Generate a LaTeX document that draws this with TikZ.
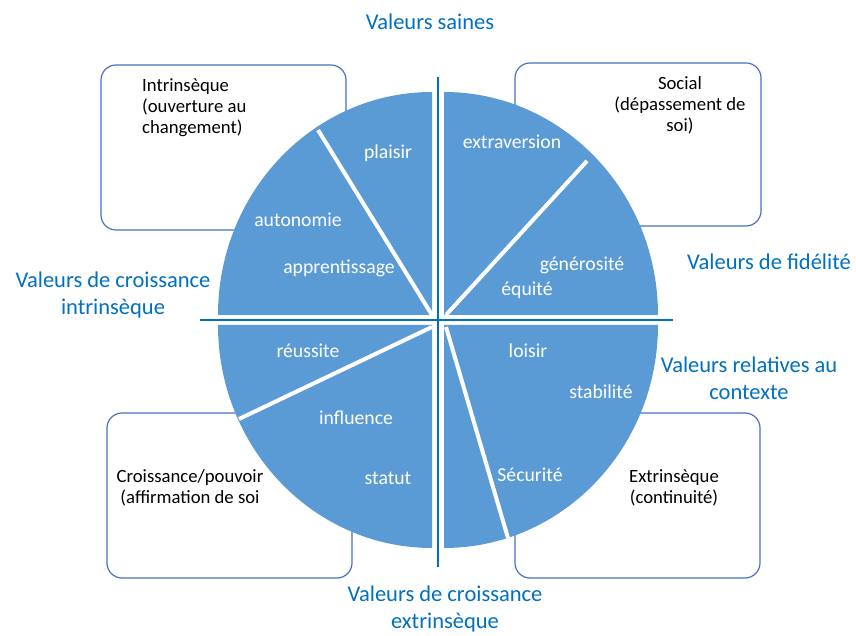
\documentclass[tikz,border=0pt]{standalone}
\usepackage{fontspec}
\setmainfont{Carlito}
\definecolor{pieblue}{HTML}{5B9BD5}
\definecolor{txtblue}{HTML}{0070C0}
\definecolor{boxblue}{HTML}{4472C4}

\begin{document}
\begin{tikzpicture}[x=1pt, y=1pt,
    box/.style={draw=boxblue, line width=1.2pt, rounded corners=15pt},
    wedge/.style={fill=pieblue},
    divider/.style={white, line width=4pt},
    axis/.style={txtblue, line width=1.5pt},
    cat/.style={txtblue, align=center, font=\fontsize{22.5}{27}\selectfont},
    val/.style={white, inner sep=0pt, font=\fontsize{19.7}{23}\selectfont},
    lbl/.style={black, align=center, inner sep=0pt, font=\fontsize{18.7}{21}\selectfont}]
\useasboundingbox (-438,-316) rectangle (418,320);

% the four boxes
\draw[box] (-337,90) rectangle (-92,255);
\draw[box] (77,94) rectangle (323,257);
\draw[box] (-331,-258) rectangle (-86,-93);
\draw[box] (77,-258) rectangle (322,-93);

% pie, one quarter at a time
\fill[wedge] (-6,5) -- (-220,5) arc[start angle=180, end angle=90, x radius=214, y radius=223] -- cycle;
\fill[wedge] (6,5) -- (6,228) arc[start angle=90, end angle=0, x radius=214, y radius=223] -- cycle;
\fill[wedge] (-6,-5) -- (-6,-228) arc[start angle=270, end angle=180, x radius=214, y radius=223] -- cycle;
\fill[wedge] (6,-5) -- (220,-5) arc[start angle=0, end angle=-90, x radius=214, y radius=223] -- cycle;

\draw[divider] (-6,5) -- (-120,190);
\draw[divider] (8,5) -- (149,159);
\draw[divider] (-6,-7) -- (-199,-99);
\draw[divider] (8,-7) -- (70,-218);

\draw[axis] (0,243) -- (0,-247);
\draw[axis] (-238,0) -- (235,0);

% values
\node[val] (plaisir) at (-50,167) {plaisir};
\node[val] (extra) at (74,178) {extraversion};
\node[val] (auto) at (-140,100) {autonomie};
\node[val] (appr) at (-99,52) {apprentissage};
\node[val] (gene) at (144,55) {générosité};
\node[val] (equi) at (89,30) {équité};
\node[val] (reus) at (-130,-31) {réussite};
\node[val] (loisir) at (90,-31) {loisir};
\node[val] (stab) at (163,-72) {stabilité};
\node[val] (infl) at (-82,-98) {influence};
\node[val] (statut) at (-50,-158) {statut};
\node[val] (secu) at (92,-155) {Sécurité};

% box texts
\node[lbl, align=left, anchor=west] (intr) at (-296,212) {Intrinsèque\\(ouverture au\\changement)};
\node[lbl] (social) at (242,215) {Social\\(dépassement de\\soi)};
\node[lbl] (crois) at (-248,-168) {Croissance/pouvoir\\(affirmation de soi};
\node[lbl] (extr) at (236,-168) {Extrinsèque\\(continuité)};

% categories
\node[cat] (saines) at (-8,298) {Valeurs saines};
\node[cat] (fidel) at (331,58) {Valeurs de fidélité};
\node[cat] (cintr) at (-325,25) {Valeurs de croissance\\intrinsèque};
\node[cat] (ctx) at (311,-58) {Valeurs relatives au\\contexte};
\node[cat] (cextr) at (7,-289) {Valeurs de croissance\\extrinsèque};

\end{tikzpicture}
\end{document}
